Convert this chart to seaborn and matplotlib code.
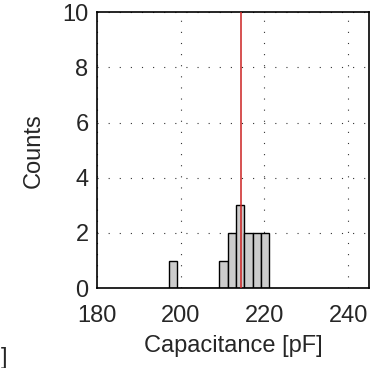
import numpy as np
import pandas as pd
import matplotlib
matplotlib.use("Agg")
import matplotlib.pyplot as plt
import seaborn as sns

# capacitance readings (pF)
capacitance = [198.2, 210.2, 212.0, 212.4, 214.0, 214.3, 214.6,
               216.0, 216.5, 218.0, 218.5, 220.0, 220.5]
bin_edges = [197.2, 199.2, 201.2, 203.2, 205.2, 207.2, 209.2,
             211.2, 213.2, 215.2, 217.2, 219.2, 221.2]
mean_value = 214.4
x_ticks = [180, 200, 220, 240]
y_ticks = [0, 2, 4, 6, 8, 10]

sns.set_style("white")
plt.rcParams["font.family"] = ["Liberation Sans", "DejaVu Sans"]

df = pd.DataFrame({"Capacitance": capacitance})

fig = plt.figure(figsize=(3.77, 3.68), dpi=100)
ax = fig.add_axes([0.257, 0.217, 0.722, 0.750])

sns.histplot(data=df, x="Capacitance", bins=bin_edges, color="#cccccc",
             edgecolor="black", linewidth=1, alpha=1, ax=ax, zorder=2)
ax.axvline(mean_value, color="#cc2222", linewidth=1.1, zorder=3)

ax.set_xlim(180, 245)
ax.set_ylim(0, 10)
ax.set_xticks(x_ticks)
ax.set_yticks(y_ticks)
ax.grid(True, color="#333333", linestyle=(0, (1, 9)), linewidth=0.8, zorder=0)
ax.set_axisbelow(True)
ax.tick_params(direction="in", length=3, width=0.8, labelsize=17)
ax.tick_params(axis="x", pad=12)
ax.tick_params(axis="y", pad=6)
for side in ["top", "right", "bottom", "left"]:
    ax.spines[side].set_visible(True)
    ax.spines[side].set_color("black")
    ax.spines[side].set_linewidth(1.2)

ax.set_xlabel("Capacitance [pF]", fontsize=17, labelpad=6)
ax.set_ylabel("Counts", fontsize=17, labelpad=13)

fig.text(0.003, 0.012, "]", fontsize=17)

fig.savefig("out.png", dpi=100)
plt.close(fig)
